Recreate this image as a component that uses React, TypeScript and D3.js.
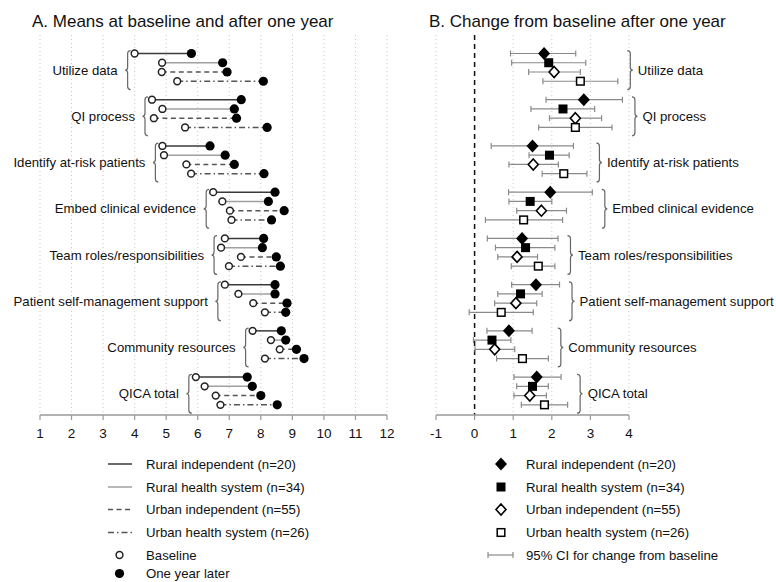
import React from "react";
import { scaleLinear, range, min, max, line } from "d3";

const domains = [
  "Utilize data",
  "QI process",
  "Identify at-risk patients",
  "Embed clinical evidence",
  "Team roles/responsibilities",
  "Patient self-management support",
  "Community resources",
  "QICA total",
];
const groups = [
  "Rural independent (n=20)",
  "Rural health system (n=34)",
  "Urban independent (n=55)",
  "Urban health system (n=26)",
];

// panel A: means per domain, one value per group
const baseline = [
  [4.0, 4.87, 4.86, 5.35],
  [4.55, 4.88, 4.61, 5.6],
  [4.88, 4.93, 5.64, 5.79],
  [6.49, 6.78, 7.02, 7.07],
  [6.86, 6.74, 7.37, 6.99],
  [6.86, 7.29, 7.76, 8.13],
  [7.74, 8.32, 8.6, 8.13],
  [5.94, 6.22, 6.57, 6.72],
];
const oneYear = [
  [5.8, 6.79, 6.93, 8.08],
  [7.38, 7.16, 7.23, 8.2],
  [6.39, 6.87, 7.16, 8.1],
  [8.45, 8.24, 8.74, 8.34],
  [8.09, 8.05, 8.49, 8.62],
  [8.45, 8.45, 8.83, 8.79],
  [8.65, 8.79, 9.13, 9.37],
  [7.57, 7.73, 8.0, 8.52],
];

// panel B: change and 95% CI
const change = [
  [1.8, 1.92, 2.06, 2.74],
  [2.83, 2.29, 2.61, 2.61],
  [1.5, 1.94, 1.52, 2.31],
  [1.96, 1.44, 1.73, 1.27],
  [1.23, 1.32, 1.1, 1.65],
  [1.59, 1.19, 1.07, 0.69],
  [0.89, 0.45, 0.52, 1.24],
  [1.61, 1.5, 1.43, 1.81],
];
const ciLow = [
  [0.93, 0.96, 1.4, 1.77],
  [1.85, 1.46, 1.94, 1.66],
  [0.43, 1.41, 0.89, 1.75],
  [0.88, 0.89, 1.09, 0.28],
  [0.33, 0.54, 0.6, 0.95],
  [0.96, 0.6, 0.52, -0.14],
  [0.32, -0.03, 0.01, 0.57],
  [1.02, 1.09, 1.02, 1.21],
];
const ciHigh = [
  [2.62, 2.88, 2.74, 3.71],
  [3.83, 3.11, 3.29, 3.56],
  [2.56, 2.45, 2.17, 2.91],
  [3.05, 2.0, 2.38, 2.28],
  [2.16, 2.08, 1.63, 2.08],
  [2.2, 1.75, 1.61, 1.52],
  [1.49, 0.94, 1.04, 1.91],
  [2.24, 1.91, 1.86, 2.41],
];

const ticksA = range(1, 13);
const ticksB = [-1, 0, 1, 2, 3, 4];

const FONT = "'Liberation Sans', Arial, sans-serif";
const W = 776;
const H = 582;

// line style for each group
const lineStyles = [
  { stroke: "#3a3a3a", dash: "" },
  { stroke: "#a0a0a0", dash: "" },
  { stroke: "#555", dash: "5,3.5" },
  { stroke: "#555", dash: "6,3,1.5,3" },
];

// y by row index (5 slots per domain, 4 used)
const y = scaleLinear().domain([-2, 39.1]).range([35, 415]);
const rowY = (g: number, r: number) => y(g * 5 + r);
const axisY = y(39.1);

const xA = scaleLinear().domain([1, 12]).range([40, 387]);
const xB = scaleLinear().domain([-1, 4]).range([436, 629]);

function leftBrace(bx: number, y0: number, y1: number) {
  const ym = (y0 + y1) / 2;
  return `M${bx + 3},${y0} Q${bx},${y0} ${bx},${y0 + 3} L${bx},${ym - 3} Q${bx},${ym} ${bx - 2.5},${ym} Q${bx},${ym} ${bx},${ym + 3} L${bx},${y1 - 3} Q${bx},${y1} ${bx + 3},${y1}`;
}
function rightBrace(bx: number, y0: number, y1: number) {
  const ym = (y0 + y1) / 2;
  return `M${bx - 3},${y0} Q${bx},${y0} ${bx},${y0 + 3} L${bx},${ym - 3} Q${bx},${ym} ${bx + 2.5},${ym} Q${bx},${ym} ${bx},${ym + 3} L${bx},${y1 - 3} Q${bx},${y1} ${bx - 3},${y1}`;
}

function Marker({ g, cx, cy }: { g: number; cx: number; cy: number }) {
  if (g === 0) {
    return <path d={`M${cx},${cy - 6.5} L${cx + 6},${cy} L${cx},${cy + 6.5} L${cx - 6},${cy} Z`} fill="#000" />;
  }
  if (g === 2) {
    return (
      <path d={`M${cx},${cy - 5.5} L${cx + 5},${cy} L${cx},${cy + 5.5} L${cx - 5},${cy} Z`} fill="#fff" stroke="#000" strokeWidth={1.6} />
    );
  }
  return g === 1 ? (
    <rect x={cx - 4.5} y={cy - 4.5} width={9} height={9} fill="#000" />
  ) : (
    <rect x={cx - 3.8} y={cy - 3.8} width={7.6} height={7.6} fill="#fff" stroke="#000" strokeWidth={1.5} />
  );
}

function PanelA() {
  const seg = line<number[]>().x((d) => d[0]).y((d) => d[1]);
  return (
    <g>
      <text x={32} y={27} fontSize={17} fill="#111">A. Means at baseline and after one year</text>
      {ticksA.map((t) => (
        <line key={t} x1={xA(t)} x2={xA(t)} y1={35} y2={axisY} stroke="#c8c8c8" strokeDasharray="1,3" />
      ))}
      {domains.map((name, g) => {
        const bx = xA(min(baseline[g])!) - 7;
        const y0 = rowY(g, -0.3);
        const y1 = rowY(g, 3.9);
        return (
          <g key={name}>
            <path d={leftBrace(bx, y0, y1)} fill="none" stroke="#666" strokeWidth={1.2} />
            <text x={bx - 10} y={(y0 + y1) / 2 + 4.5} textAnchor="end" fontSize={13.2} fill="#111">{name}</text>
            {groups.map((_, r) => {
              const cy = rowY(g, r);
              const x0 = xA(baseline[g][r]);
              const x1 = xA(oneYear[g][r]);
              return (
                <g key={r}>
                  <path d={seg([[x0, cy], [x1, cy]])!} stroke={lineStyles[r].stroke} strokeDasharray={lineStyles[r].dash} strokeWidth={1.5} fill="none" />
                  <circle cx={x1} cy={cy} r={4.6} fill="#000" />
                  <circle cx={x0} cy={cy} r={3.4} fill="#fff" stroke="#222" strokeWidth={1.5} />
                </g>
              );
            })}
          </g>
        );
      })}
      <line x1={xA(1)} x2={xA(12)} y1={axisY} y2={axisY} stroke="#999" strokeWidth={1.5} />
      {ticksA.map((t) => (
        <g key={t}>
          <line x1={xA(t)} x2={xA(t)} y1={axisY} y2={axisY + 5} stroke="#999" strokeWidth={1.2} />
          <text x={xA(t)} y={438} textAnchor="middle" fontSize={13.5} fill="#111">{t}</text>
        </g>
      ))}
    </g>
  );
}

function PanelB() {
  return (
    <g>
      <text x={429} y={27} fontSize={17} fill="#111">B. Change from baseline after one year</text>
      {ticksB.filter((t) => t !== 0).map((t) => (
        <line key={t} x1={xB(t)} x2={xB(t)} y1={35} y2={axisY} stroke="#c8c8c8" strokeDasharray="1,3" />
      ))}
      <line x1={xB(0)} x2={xB(0)} y1={35} y2={axisY} stroke="#111" strokeWidth={1.5} strokeDasharray="5,4" />
      {domains.map((name, g) => {
        const bx = xB(max(ciHigh[g])!) + 12.5;
        const y0 = rowY(g, -0.3);
        const y1 = rowY(g, 3.9);
        return (
          <g key={name}>
            <path d={rightBrace(bx, y0, y1)} fill="none" stroke="#666" strokeWidth={1.2} />
            <text x={bx + 7.5} y={(y0 + y1) / 2 + 4.5} fontSize={13.2} fill="#111">{name}</text>
            {groups.map((_, r) => {
              const cy = rowY(g, r);
              const lo = xB(ciLow[g][r]);
              const hi = xB(ciHigh[g][r]);
              return (
                <g key={r}>
                  <line x1={lo} x2={hi} y1={cy} y2={cy} stroke="#8a8a8a" strokeWidth={1.2} />
                  <line x1={lo} x2={lo} y1={cy - 3} y2={cy + 3} stroke="#8a8a8a" strokeWidth={1.2} />
                  <line x1={hi} x2={hi} y1={cy - 3} y2={cy + 3} stroke="#8a8a8a" strokeWidth={1.2} />
                  <Marker g={r} cx={xB(change[g][r])} cy={cy} />
                </g>
              );
            })}
          </g>
        );
      })}
      <line x1={xB(-1)} x2={xB(4)} y1={axisY} y2={axisY} stroke="#999" strokeWidth={1.5} />
      {ticksB.map((t) => (
        <g key={t}>
          <line x1={xB(t)} x2={xB(t)} y1={axisY} y2={axisY + 5} stroke="#999" strokeWidth={1.2} />
          <text x={xB(t)} y={438} textAnchor="middle" fontSize={13.5} fill="#111">{t}</text>
        </g>
      ))}
    </g>
  );
}

const legendY = [464, 487, 509.5, 532.5, 555, 573.5];

function Legends() {
  return (
    <g fontSize={13.2} fill="#111">
      {groups.map((label, r) => (
        <g key={label}>
          <line x1={108} x2={132} y1={legendY[r]} y2={legendY[r]} stroke={lineStyles[r].stroke} strokeDasharray={lineStyles[r].dash} strokeWidth={1.5} />
          <text x={146} y={legendY[r] + 4.5}>{label}</text>
          <Marker g={r} cx={501} cy={legendY[r]} />
          <text x={526} y={legendY[r] + 4.5}>{label}</text>
        </g>
      ))}
      <circle cx={119.5} cy={legendY[4]} r={3.4} fill="#fff" stroke="#222" strokeWidth={1.5} />
      <text x={146} y={legendY[4] + 4.5}>Baseline</text>
      <circle cx={119.5} cy={legendY[5]} r={4.6} fill="#000" />
      <text x={146} y={legendY[5] + 4.5}>One year later</text>
      <line x1={488} x2={513} y1={legendY[4]} y2={legendY[4]} stroke="#8a8a8a" strokeWidth={1.2} />
      <line x1={488} x2={488} y1={legendY[4] - 3} y2={legendY[4] + 3} stroke="#8a8a8a" strokeWidth={1.2} />
      <line x1={513} x2={513} y1={legendY[4] - 3} y2={legendY[4] + 3} stroke="#8a8a8a" strokeWidth={1.2} />
      <text x={526} y={legendY[4] + 4.5}>95% CI for change from baseline</text>
    </g>
  );
}

export default function App() {
  return (
    <svg
      width={W}
      height={H}
      style={{ position: "absolute", left: 0, top: 0, background: "#fff" }}
      fontFamily={FONT}
    >
      <rect width={W} height={H} fill="#fff" />
      <PanelA />
      <PanelB />
      <Legends />
    </svg>
  );
}
